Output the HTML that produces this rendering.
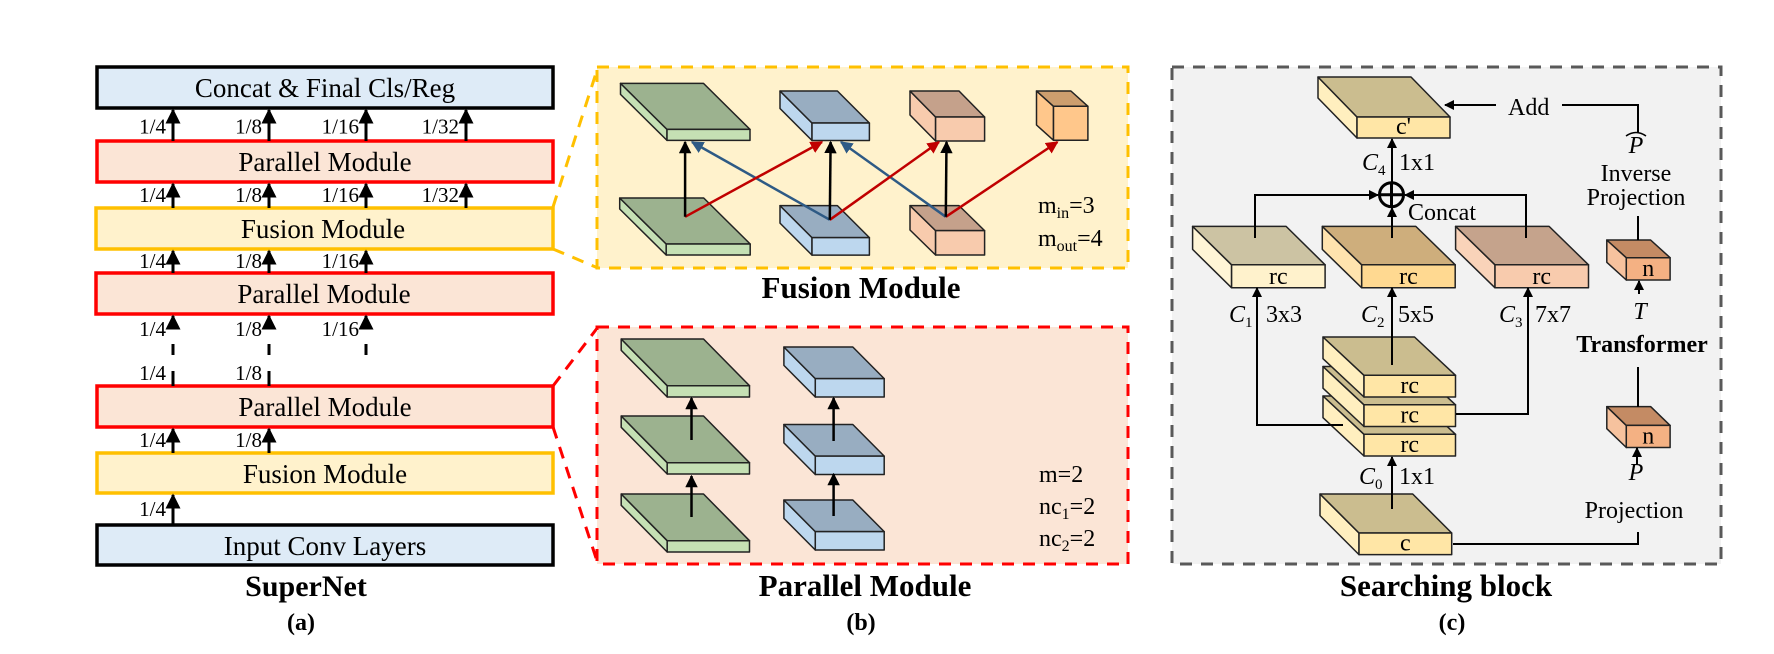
<!DOCTYPE html>
<html><head><meta charset="utf-8"><style>
html,body{margin:0;padding:0;background:#fff;}
svg{display:block;font-family:"Liberation Serif",serif;}
</style></head><body>
<svg id="root" width="1774" height="654" viewBox="0 0 1774 654">
<defs>
<marker id="ak" viewBox="0 0 10 10" refX="9" refY="5" markerWidth="5" markerHeight="5" orient="auto-start-reverse"><path d="M0,0L10,5L0,10z" fill="#000"/></marker>
<marker id="ar" viewBox="0 0 10 10" refX="9" refY="5" markerWidth="5" markerHeight="5" orient="auto"><path d="M0,0L10,5L0,10z" fill="#c00000"/></marker>
<marker id="ab" viewBox="0 0 10 10" refX="9" refY="5" markerWidth="5" markerHeight="5" orient="auto"><path d="M0,0L10,5L0,10z" fill="#2e5a85"/></marker>
</defs>

<g font-size="27" text-anchor="middle">
<rect x="97" y="67" width="456" height="41" fill="#deebf7" stroke="#000" stroke-width="3.5"/>
<text x="325" y="97">Concat &amp; Final Cls/Reg</text>
<rect x="97" y="141" width="456" height="41" fill="#fbe5d6" stroke="#ff0000" stroke-width="3.5"/>
<text x="325" y="171">Parallel Module</text>
<rect x="96" y="208" width="457" height="41" fill="#fff2cc" stroke="#ffc000" stroke-width="3.5"/>
<text x="323" y="238">Fusion Module</text>
<rect x="96" y="273" width="457" height="41" fill="#fbe5d6" stroke="#ff0000" stroke-width="3.5"/>
<text x="324" y="303">Parallel Module</text>
<rect x="97" y="386" width="456" height="41" fill="#fbe5d6" stroke="#ff0000" stroke-width="3.5"/>
<text x="325" y="416">Parallel Module</text>
<rect x="97" y="453" width="456" height="40" fill="#fff2cc" stroke="#ffc000" stroke-width="3.5"/>
<text x="325" y="483">Fusion Module</text>
<rect x="97" y="525" width="456" height="40" fill="#deebf7" stroke="#000" stroke-width="3.5"/>
<text x="325" y="555">Input Conv Layers</text>
<text x="306" y="596" font-weight="bold" font-size="30">SuperNet</text>
<text x="301" y="630" font-weight="bold" font-size="24">(a)</text>
</g>
<g id="arrowsA" stroke="#000" stroke-width="3" font-size="21" text-anchor="end"></g>

<g fill="none" stroke-width="3" stroke-dasharray="12,9">
<line x1="553" y1="207" x2="598" y2="67" stroke="#ffc000"/>
<line x1="553" y1="249" x2="598" y2="268" stroke="#ffc000"/>
<line x1="553" y1="386" x2="598" y2="327" stroke="#ff0000"/>
<line x1="553" y1="427" x2="598" y2="564" stroke="#ff0000"/>
</g>

<rect x="597" y="67" width="531" height="201" fill="#fff2cc" stroke="#ffc000" stroke-width="3" stroke-dasharray="12,9"/>
<rect x="597" y="327" width="531" height="237" fill="#fbe5d6" stroke="#ff0000" stroke-width="3" stroke-dasharray="12,9"/>
<g id="slabsB"></g>
<g id="arrowsB" stroke-width="2.5" fill="none"></g>
<g font-size="24">
<text x="1038" y="213">m<tspan font-size="16" dy="5">in</tspan><tspan dy="-5">=3</tspan></text>
<text x="1038" y="246">m<tspan font-size="16" dy="5">out</tspan><tspan dy="-5">=4</tspan></text>
</g>
<g font-size="24">
<text x="1039" y="482">m=2</text>
<text x="1039" y="514">nc<tspan font-size="16" dy="5">1</tspan><tspan dy="-5">=2</tspan></text>
<text x="1039" y="546">nc<tspan font-size="16" dy="5">2</tspan><tspan dy="-5">=2</tspan></text>
</g>
<text x="861" y="298" font-size="31" font-weight="bold" text-anchor="middle">Fusion Module</text>
<text x="865" y="596" font-size="31" font-weight="bold" text-anchor="middle">Parallel Module</text>
<text x="861" y="630" font-size="24" font-weight="bold" text-anchor="middle">(b)</text>

<rect x="1172" y="67" width="549" height="497" fill="#f2f2f2" stroke="#595959" stroke-width="3" stroke-dasharray="12,9"/>
<g id="slabsC"></g>
<g stroke="#000" stroke-width="2" fill="none">
<line x1="1392" y1="182" x2="1392" y2="139" marker-end="url(#ak)"/>
<polyline points="1255,238 1255,195 1378,195" marker-end="url(#ak)"/>
<polyline points="1526,238 1526,195 1405,195" marker-end="url(#ak)"/>
<line x1="1392" y1="238" x2="1392" y2="208" marker-end="url(#ak)"/>
<line x1="1392" y1="365" x2="1392" y2="288" marker-end="url(#ak)"/>
<polyline points="1456,414 1528,414 1528,288" marker-end="url(#ak)"/>
<polyline points="1343,425 1257,425 1257,288" marker-end="url(#ak)"/>
<line x1="1392" y1="509" x2="1392" y2="457" marker-end="url(#ak)"/>
<line x1="1496" y1="105" x2="1445" y2="105" marker-end="url(#ak)"/>
<polyline points="1562,105 1638,105 1638,133"/>
<line x1="1638" y1="216" x2="1638" y2="240"/>
<line x1="1639" y1="294" x2="1639" y2="281" marker-end="url(#ak)"/>
<line x1="1638" y1="367" x2="1638" y2="407"/>
<line x1="1637" y1="464" x2="1637" y2="448" marker-end="url(#ak)"/>
<polyline points="1638,532 1638,544 1453,544"/>
<circle cx="1391.5" cy="194.7" r="12" stroke-width="3" fill="#f2f2f2"/>
<line x1="1379.5" y1="194.7" x2="1403.5" y2="194.7" stroke-width="3"/>
<line x1="1391.5" y1="182.7" x2="1391.5" y2="206.7" stroke-width="3"/>
</g>
<g font-size="24">
<text x="1508" y="115">Add</text>
<text x="1408" y="220">Concat</text>
<text x="1636" y="153" text-anchor="middle" font-style="italic">P</text>
<path d="M1626,136 Q1636,129 1646,136" stroke="#000" stroke-width="1.5" fill="none"/>
<text x="1636" y="181" text-anchor="middle">Inverse</text>
<text x="1636" y="205" text-anchor="middle">Projection</text>
<text x="1640" y="319" text-anchor="middle" font-style="italic">T</text>
<text x="1642" y="352" text-anchor="middle" font-weight="bold" font-size="24">Transformer</text>
<text x="1636" y="480" text-anchor="middle" font-style="italic">P</text>
<text x="1634" y="518" text-anchor="middle">Projection</text>
<text x="1362" y="170" font-style="italic">C<tspan font-size="15" dy="5" font-style="normal">4</tspan></text>
<text x="1399" y="170">1x1</text>
<text x="1229" y="322" font-style="italic">C<tspan font-size="15" dy="5" font-style="normal">1</tspan></text>
<text x="1266" y="322">3x3</text>
<text x="1361" y="322" font-style="italic">C<tspan font-size="15" dy="5" font-style="normal">2</tspan></text>
<text x="1398" y="322">5x5</text>
<text x="1499" y="322" font-style="italic">C<tspan font-size="15" dy="5" font-style="normal">3</tspan></text>
<text x="1535" y="322">7x7</text>
<text x="1359" y="484" font-style="italic">C<tspan font-size="15" dy="5" font-style="normal">0</tspan></text>
<text x="1399" y="484">1x1</text>
</g>
<text x="1446" y="596" font-size="31" font-weight="bold" text-anchor="middle">Searching block</text>
<text x="1452" y="630" font-size="24" font-weight="bold" text-anchor="middle">(c)</text>
</svg>
<script>
const NS='http://www.w3.org/2000/svg';
function mk(parent,tag,attrs){const e=document.createElementNS(NS,tag);for(const k in attrs)e.setAttribute(k,attrs[k]);parent.appendChild(e);return e;}
function slab(parent,x0,y0,w,dx,dy,h,top,front,side,name,label,lfs){
  const g=mk(parent,'g',{});
  
  
  const st={stroke:'#222','stroke-width':1.5,'stroke-linejoin':'round'};
  mk(g,'polygon',Object.assign({points:`${x0},${y0} ${x0+dx},${y0+dy} ${x0+dx},${y0+dy+h} ${x0},${y0+h}`,fill:side},st));
  mk(g,'polygon',Object.assign({points:`${x0},${y0} ${x0+w},${y0} ${x0+w+dx},${y0+dy} ${x0+dx},${y0+dy}`,fill:top},st));
  mk(g,'polygon',Object.assign({points:`${x0+dx},${y0+dy} ${x0+w+dx},${y0+dy} ${x0+w+dx},${y0+dy+h} ${x0+dx},${y0+dy+h}`,fill:front},st));
  if(label){const t=mk(g,'text',{x:x0+dx+w/2,y:y0+dy+h-4,'text-anchor':'middle','font-size':lfs||24});t.textContent=label;}
}
const A=document.getElementById('arrowsA');
const ax=[173,269,366,466];
const lab=['1/4','1/8','1/16','1/32'];
const rows=[[141,108,133.5,4],[208,182,202,4],[273,249,268,3],[525,493,516,1],[453,427,447,2]];
rows.forEach(r=>{for(let i=0;i<r[3];i++){
  const l=mk(A,'line',{x1:ax[i],y1:r[0],x2:ax[i],y2:r[1]+2,'marker-end':'url(#ak)'});
  
  
  const t=mk(A,'text',{x:ax[i]-7,y:r[2],stroke:'none'});t.textContent=lab[i];}});
for(let i=0;i<3;i++){
  mk(A,'line',{x1:ax[i],y1:327,x2:ax[i],y2:316,'marker-end':'url(#ak)'});
  const t=mk(A,'text',{x:ax[i]-7,y:336,stroke:'none'});t.textContent=lab[i];
  mk(A,'line',{x1:ax[i],y1:344,x2:ax[i],y2:355});
}
for(let i=0;i<2;i++){
  mk(A,'line',{x1:ax[i],y1:371,x2:ax[i],y2:386});
  const t=mk(A,'text',{x:ax[i]-7,y:380,stroke:'none'});t.textContent=lab[i];
}
const B=document.getElementById('slabsB');
slab(B,620.5,83.4,83,46.5,46,11,'#9cb28f','#c5e0b4','#c5e0b4','fusion-out-green');
slab(B,619.7,198,84,46.5,46,11,'#9cb28f','#c5e0b4','#c5e0b4','fusion-in-green');
slab(B,780,91,57.4,32,32,17.5,'#98adc1','#bdd7ee','#bdd7ee','fusion-out-blue');
slab(B,780,205.6,57.4,32,32,17.5,'#98adc1','#bdd7ee','#bdd7ee','fusion-in-blue');
slab(B,910,91,49,25.6,26,24,'#c5a18b','#f8cbad','#f8cbad','fusion-out-orange');
slab(B,910,205.6,49,25.6,25,24.4,'#c5a18b','#f8cbad','#f8cbad','fusion-in-orange');
slab(B,1036.5,91,34.4,17,15.3,34,'#cd9e6e','#ffc78b','#ffc78b','fusion-out-cube');
[339,416,494].forEach(y=>slab(B,621.2,y,82.3,46,46.7,11.3,'#9cb28f','#c5e0b4','#c5e0b4','parallel-green-layer'));
[347,424.5,500].forEach(y=>slab(B,783.9,y,68.9,31.4,31.6,18.4,'#98adc1','#bdd7ee','#bdd7ee','parallel-blue-layer'));
const AB=document.getElementById('arrowsB');
function arr(x1,y1,x2,y2,c,m){const l=mk(AB,'line',{x1,y1,x2,y2,stroke:c,'marker-end':`url(#${m})`});
  
  }
arr(829.8,219.8,692,142,'#2e5a85','ab');
arr(945.8,216.8,841,142,'#2e5a85','ab');
arr(685.1,216.8,822,142,'#c00000','ar');
arr(829.8,219.8,939,142,'#c00000','ar');
arr(945.8,216.8,1057.5,142,'#c00000','ar');
arr(685.1,216.8,685.1,142,'#000','ak');
arr(829.8,219.8,830.6,142,'#000','ak');
arr(945.8,216.8,946.5,142,'#000','ak');
arr(691.5,517,691.5,476,'#000','ak');
arr(691.5,440,691.5,398,'#000','ak');
arr(833.6,516,833.6,474,'#000','ak');
arr(833.6,441,833.6,398,'#000','ak');
const C=document.getElementById('slabsC');
slab(C,1318,77,93,39,40,21,'#cbbd8f','#ffe6a6','#ffefbf','c-prime-output','c\'');
slab(C,1192.6,226.4,93.5,39,38.4,23,'#ccc3a3','#fff2cc','#fff5d6','rc-branch-1','rc');
slab(C,1322.3,226.4,93.5,39.4,38.4,23,'#ceae7c','#ffd991','#ffe3ae','rc-branch-2','rc');
slab(C,1455.6,226.4,93.5,39.4,38.4,23,'#c5a38c','#f8cbad','#f9d3b9','rc-branch-3','rc');
slab(C,1323,396,91.5,41,38.3,21.7,'#cbbd8f','#ffe6a6','#ffefbf','rc-stack-3','rc');
slab(C,1323,366.5,91.5,41,38.3,21.7,'#cbbd8f','#ffe6a6','#ffefbf','rc-stack-2','rc');
slab(C,1323,337,91.5,41,38.3,21.7,'#cbbd8f','#ffe6a6','#ffefbf','rc-stack-1','rc');
slab(C,1320,494,92.7,39,39,21.6,'#cbbd8f','#ffe6a6','#ffefbf','c-input','c');
slab(C,1606.8,240,43.8,19.5,17.7,22.3,'#c48b64','#f4b183','#f6c29e','transformer-out-token','n');
slab(C,1606.8,406.6,43.8,19.5,18.8,22.1,'#c48b64','#f4b183','#f6c29e','transformer-in-token','n');
</script>
</body></html>
